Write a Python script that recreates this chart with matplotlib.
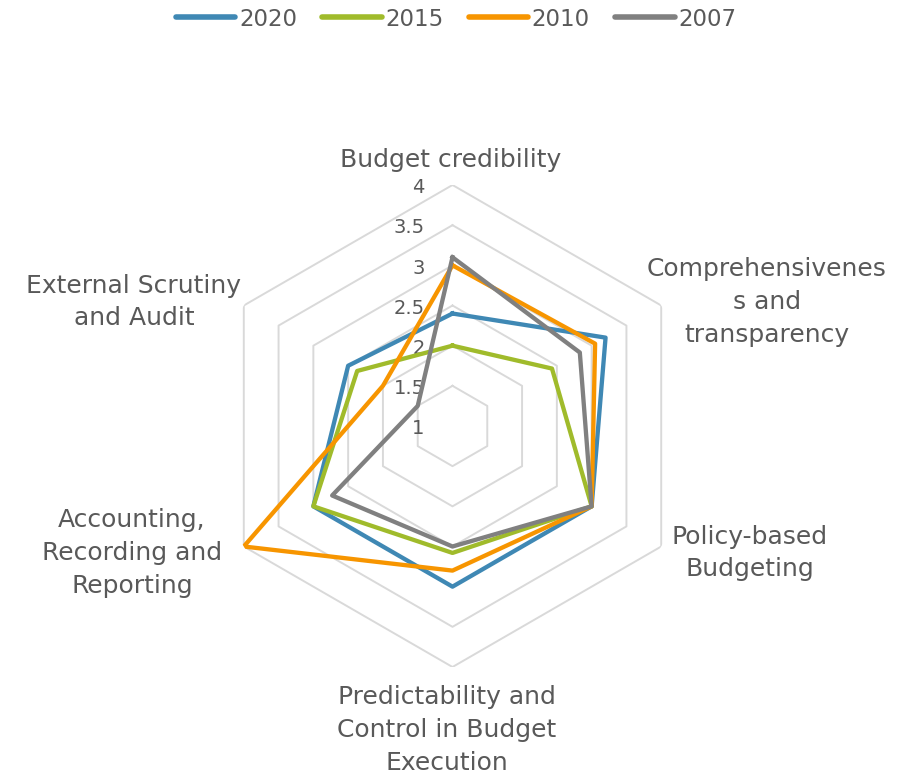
import numpy as np
import matplotlib
matplotlib.use("Agg")
import matplotlib.pyplot as plt
from matplotlib.lines import Line2D

# pillar names, clockwise from the top
categories = [
    "Budget credibility",
    "Comprehensivenes\ns and\ntransparency",
    "Policy-based\nBudgeting",
    "Predictability and\nControl in Budget\nExecution",
    "Accounting,\nRecording and\nReporting",
    "External Scrutiny\nand Audit",
]
years = ["2020", "2015", "2010", "2007"]
scores_2020 = [2.4, 3.2, 3.0, 3.0, 3.0, 2.5]
scores_2015 = [2.0, 2.43, 3.0, 2.58, 3.0, 2.37]
scores_2010 = [3.0, 3.05, 3.0, 2.8, 4.0, 2.0]
scores_2007 = [3.1, 2.83, 3.0, 2.5, 2.73, 1.5]
r_ticks = [1, 1.5, 2, 2.5, 3, 3.5, 4]
tick_labels = ["1", "1.5", "2", "2.5", "3", "3.5", "4"]

colors = ["#3f88b4", "#a0bb2b", "#f79500", "#808080"]
TEXT = "#595959"
GRID = "#d9d9d9"

W, H = 904, 778
fig = plt.figure(figsize=(W / 100, H / 100), dpi=100)

# polar axes centred at (452.5, 426) px, radius 241 px
cx, cy, rad = 452.5, 426, 241
ax = fig.add_axes([(cx - rad) / W, (H - cy - rad) / H, 2 * rad / W, 2 * rad / H],
                  projection="polar")
ax.set_theta_offset(np.pi / 2)
ax.set_theta_direction(-1)
ax.set_ylim(r_ticks[0], r_ticks[-1])
ax.grid(False)
ax.spines["polar"].set_visible(False)
ax.set_xticks([])
ax.set_yticks([])
ax.patch.set_alpha(0)

n = len(categories)
angles = np.linspace(0, 2 * np.pi, n, endpoint=False)
closed = np.append(angles, angles[0])

# hexagonal grid
for r in r_ticks[1:]:
    ax.plot(closed, [r] * (n + 1), color=GRID, lw=1.4, zorder=1)

for t, lab in zip(r_ticks, tick_labels):
    ax.annotate(lab, xy=(0, t), xytext=(-20, -2), textcoords="offset points",
                ha="right", va="center", fontsize=14, color=TEXT, zorder=2)

series = [scores_2020, scores_2015, scores_2010, scores_2007]
for vals, col, yr in zip(series, colors, years):
    v = np.append(vals, vals[0])
    ax.plot(closed, v, color=col, lw=3.1, solid_joinstyle="round", zorder=3)

# category labels (pixel positions of the label centres)
label_pos = [(451, 160), (767, 302), (750, 553), (447, 730), (132, 553), (134, 302)]
for lab, (px, py) in zip(categories, label_pos):
    fig.text(px / W, 1 - py / H, lab, ha="center", va="center", fontsize=18,
             color=TEXT, linespacing=1.45)

handles = [Line2D([], [], color=c, lw=4, solid_capstyle="round") for c in colors]
fig.legend(handles, years, loc="center", bbox_to_anchor=(456 / W, 1 - 19 / H),
           ncol=4, frameon=False, fontsize=16.5, labelcolor=TEXT,
           handlelength=2.6, handletextpad=0.15, columnspacing=1.1)

fig.savefig("out.png", dpi=100)
